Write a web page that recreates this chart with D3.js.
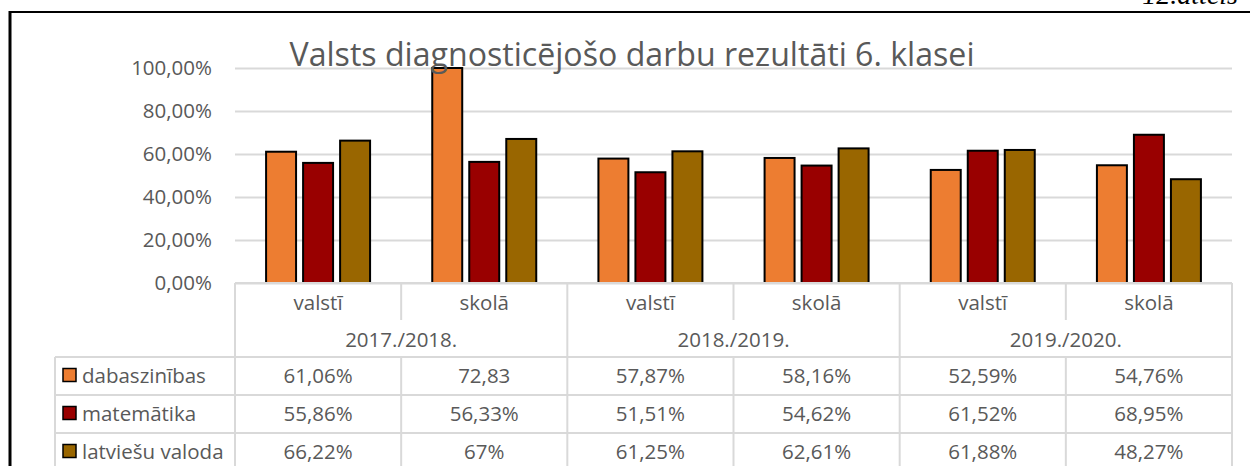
<!DOCTYPE html>
<html>
<head>
<meta charset="utf-8">
<script src="https://cdn.jsdelivr.net/npm/d3@7"></script>
<style>
  html, body { margin: 0; padding: 0; background: #fff; }
  svg { display: block; }
  text { font-family: "Open Sans", sans-serif; fill: #595959; }
</style>
</head>
<body>
<svg id="chart" width="1250" height="466"></svg>
<script>
// ---------- data ----------
const title = "Valsts diagnosticējošo darbu rezultāti 6. klasei";
const figureLabel = "12.attēls";
const years = ["2017./2018.", "2018./2019.", "2019./2020."];
const places = ["valstī", "skolā"];
const seriesNames = ["dabaszinības", "matemātika", "latviešu valoda"];
const seriesColors = ["#ED7D31", "#990000", "#996600"];
const dabaszinibas = [0.6106, 72.83, 0.5787, 0.5816, 0.5259, 0.5476];
const matematika   = [0.5586, 0.5633, 0.5151, 0.5462, 0.6152, 0.6895];
const latviesu     = [0.6622, 0.67,   0.6125, 0.6261, 0.6188, 0.4827];
const yTicks = [0, 0.2, 0.4, 0.6, 0.8, 1.0];

const seriesValues = [dabaszinibas, matematika, latviesu];
const categories = [];
years.forEach(y => places.forEach(p => categories.push(y + "|" + p)));

// ---------- layout ----------
const svg = d3.select("#chart");
const plot = { left: 235, right: 1232, top: 68, bottom: 283 };
const rowH = 38;
const row1 = 283, row2 = 320, row3 = 357;
const legendLeft = 55;
const gridCol = "#d9d9d9";

const locale = d3.formatLocale({ decimal: ",", thousands: " ", grouping: [3], currency: ["", "€"] });
const fmtAxis = v => locale.format(".2f")(v * 100) + "%";
function fmtCell(v) {
  if (v > 1) return locale.format(".2f")(v);
  const p = Math.round(v * 10000) / 100;
  if (Number.isInteger(p)) return p + "%";
  return locale.format(".2f")(p) + "%";
}

const x0 = d3.scaleBand().domain(categories).range([plot.left, plot.right]).paddingInner(0).paddingOuter(0);
const x1 = d3.scaleBand().domain(d3.range(seriesNames.length)).range([0, x0.bandwidth()])
  .paddingInner(0.19).paddingOuter(0.84);
const y = d3.scaleLinear().domain([0, 1]).range([plot.bottom, plot.top]).clamp(true);
const xYear = d3.scaleBand().domain(years).range([plot.left, plot.right]);

// frame
svg.append("line").attr("x1", 10).attr("x2", 1250).attr("y1", 12).attr("y2", 12)
  .attr("stroke", "#000").attr("stroke-width", 2);
svg.append("line").attr("x1", 10).attr("x2", 10).attr("y1", 11).attr("y2", 466)
  .attr("stroke", "#000").attr("stroke-width", 3);
svg.append("text").attr("x", 1238).attr("y", 4).attr("text-anchor", "end")
  .style("font-family", "'Liberation Serif', serif").style("font-style", "italic")
  .style("font-size", "28px").style("fill", "#000").text(figureLabel);

// gridlines + y axis labels
const yAxis = d3.axisLeft(y).tickValues(yTicks).tickFormat(fmtAxis).tickSize(-(plot.right - plot.left)).tickPadding(23);
const gy = svg.append("g").attr("transform", `translate(${plot.left},0)`).call(yAxis);
gy.select(".domain").remove();
gy.selectAll(".tick line").attr("stroke", gridCol).attr("stroke-width", 2);
gy.selectAll(".tick text").style("font-family", "'Open Sans', sans-serif").style("font-size", "20.5px")
  .attr("fill", "#595959");

// bars
const gBars = svg.append("g");
categories.forEach((c, ci) => {
  seriesNames.forEach((s, si) => {
    const v = seriesValues[si][ci];
    gBars.append("rect")
      .attr("x", x0(c) + x1(si))
      .attr("y", y(v))
      .attr("width", x1.bandwidth())
      .attr("height", y(0) - y(v))
      .attr("fill", seriesColors[si])
      .attr("stroke", "#000").attr("stroke-width", 2);
  });
});

// table lines
const gT = svg.append("g").attr("stroke", gridCol).attr("stroke-width", 2);
gT.append("line").attr("x1", plot.left).attr("x2", plot.right).attr("y1", row1).attr("y2", row1);
[0, 1, 2].forEach(i => {
  const yy = row3 + i * rowH;
  gT.append("line").attr("x1", legendLeft).attr("x2", plot.right).attr("y1", yy).attr("y2", yy);
});
gT.append("line").attr("x1", legendLeft).attr("x2", legendLeft).attr("y1", row3).attr("y2", 466);
categories.forEach((c, ci) => {
  const xx = x0(c);
  if (ci % 2 === 0) {
    gT.append("line").attr("x1", xx).attr("x2", xx).attr("y1", row1).attr("y2", 466);
  } else {
    gT.append("line").attr("x1", xx).attr("x2", xx).attr("y1", row1).attr("y2", row2);
    gT.append("line").attr("x1", xx).attr("x2", xx).attr("y1", row3).attr("y2", 466);
  }
});
gT.append("line").attr("x1", plot.right).attr("x2", plot.right).attr("y1", row1).attr("y2", 466);

// table texts
const fs = "20.5px";
categories.forEach((c, ci) => {
  svg.append("text").attr("x", x0(c) + x0.bandwidth() / 2).attr("y", 302)
    .attr("text-anchor", "middle").attr("dominant-baseline", "central").style("font-size", fs)
    .text(places[ci % 2]);
});
years.forEach(yr => {
  svg.append("text").attr("x", xYear(yr) + xYear.bandwidth() / 2).attr("y", 339)
    .attr("text-anchor", "middle").attr("dominant-baseline", "central").style("font-size", fs)
    .text(yr);
});
seriesNames.forEach((s, si) => {
  const cy = row3 + si * rowH + rowH / 2 - 1;
  svg.append("rect").attr("x", 63).attr("y", cy - 6.5).attr("width", 13).attr("height", 13)
    .attr("fill", seriesColors[si]).attr("stroke", "#000").attr("stroke-width", 1.5);
  svg.append("text").attr("x", 82).attr("y", cy).attr("dominant-baseline", "central")
    .style("font-size", fs).text(s);
  categories.forEach((c, ci) => {
    svg.append("text").attr("x", x0(c) + x0.bandwidth() / 2).attr("y", cy)
      .attr("text-anchor", "middle").attr("dominant-baseline", "central").style("font-size", fs)
      .text(fmtCell(seriesValues[si][ci]));
  });
});

// title (on top)
const t = svg.append("text").attr("x", 632).attr("y", 66).attr("text-anchor", "middle")
  .style("font-size", "31px").text(title);
const w = t.node().getComputedTextLength();
t.style("font-size", (31 * 685 / w).toFixed(2) + "px");
</script>
</body>
</html>
